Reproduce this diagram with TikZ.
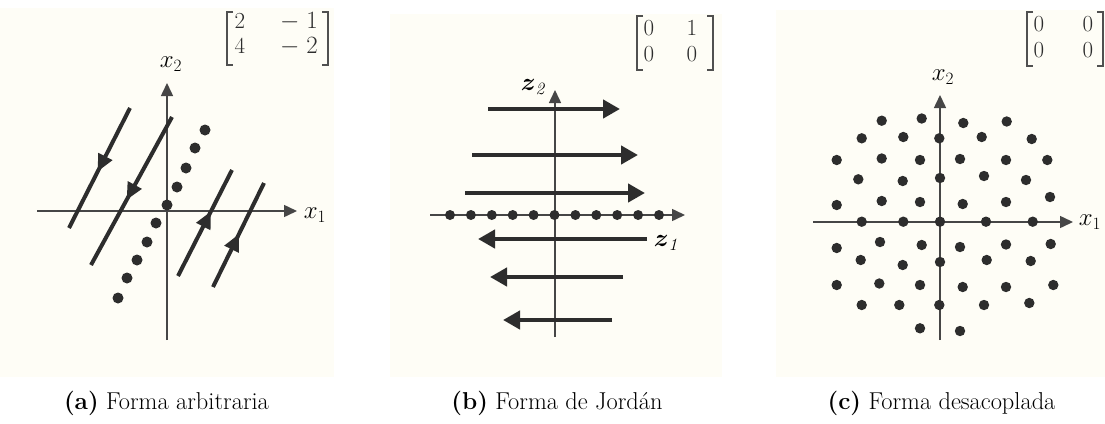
\documentclass[tikz,border=0pt]{standalone}
\usepackage{amsmath}
\usetikzlibrary{arrows.meta,decorations.markings}
\definecolor{paper}{RGB}{254,253,246}
\definecolor{ink}{RGB}{45,45,45}
\definecolor{axisink}{RGB}{70,70,70}
\definecolor{brkink}{RGB}{80,80,80}
\tikzset{
  axisline/.style={draw=axisink,line width=1.5pt,-{Triangle[length=13pt,width=12pt]}},
  traj/.style={draw=ink,line width=4pt},
  flow/.style={draw=ink,line width=4.4pt,-{Triangle[length=17pt,width=18pt]}},
  midarrow/.style={decoration={markings,mark=at position #1 with {\arrow{Triangle[length=17pt,width=15pt]}}},postaction=decorate},
  dotfill/.style={fill=ink,draw=none},
  lbl/.style={font=\fontsize{27}{30}\selectfont,inner sep=0pt},
  zlbl/.style={font=\fontsize{23}{26}\selectfont,inner sep=0pt},
  captxt/.style={font=\fontsize{24.4}{28}\selectfont,inner sep=0pt},
  entry/.style={font=\fontsize{23}{25}\selectfont,inner sep=0pt,anchor=base,text=ink},
  matbox/.style={draw=none,inner sep=0pt,outer sep=0pt},
  brk/.style={draw=brkink,line width=1.3pt}
}
\begin{document}
\begin{tikzpicture}[x=1pt,y=-1pt]
\useasboundingbox (0,0) rectangle (1105,423);
% faint scanned backgrounds
\fill[paper] (0,8) rectangle (334,377);
\fill[paper] (390,14) rectangle (722,377);
\fill[paper] (776,10) rectangle (1105,377);

% ===== Panel (a) =====
\coordinate (aL) at (37,211);
\coordinate (aR) at (297,211);
\coordinate (aB) at (167,340);
\coordinate (aT) at (167,83);
\draw[axisline] (aL) -- (aR);
\draw[axisline] (aB) -- (aT);
\node[lbl] (ax2) at (171,64) {$x_2$};
\node[lbl] (ax1) at (315,215) {$x_1$};
% matrix (a)
\node[matbox,minimum width=101pt,minimum height=53pt] (ma) at (277.5,38.5) {};
\draw[brk] ([xshift=6pt]ma.north west) -- (ma.north west) -- (ma.south west) -- ([xshift=6pt]ma.south west);
\draw[brk] ([xshift=-6pt]ma.north east) -- (ma.north east) -- (ma.south east) -- ([xshift=-6pt]ma.south east);
\node[entry] (ma11) at (240,28) {2};
\node[entry] (ma21) at (240,53) {4};
\node[entry] (ma12) at (299,28) {$-\hspace{7pt}1$};
\node[entry] (ma22) at (299,53) {$-\hspace{7pt}2$};
% trajectories
\coordinate (l1a) at (130,108); \coordinate (l1b) at (69,228);
\coordinate (l2a) at (172,117); \coordinate (l2b) at (91,265);
\coordinate (l3a) at (178,276); \coordinate (l3b) at (232,170);
\coordinate (l4a) at (213,287); \coordinate (l4b) at (264,183);
\draw[traj,midarrow=0.53] (l1a) -- (l1b);
\draw[traj,midarrow=0.56] (l2a) -- (l2b);
\draw[traj,midarrow=0.61] (l3a) -- (l3b);
\draw[traj,midarrow=0.51] (l4a) -- (l4b);
% equilibrium line
\foreach \p in {(205,130),(195,148),(186,168),(177,187),(167,205),(156,223),(147,242),(137,260),(127,278),(118,298)}
  \fill[dotfill] \p circle (5.5pt);

% ===== Panel (b) =====
\coordinate (bL) at (430,215);
\coordinate (bR) at (685,215);
\coordinate (bB) at (555,337);
\coordinate (bT) at (555,90);
\draw[axisline] (bL) -- (bR);
\draw[axisline] (bB) -- (bT);
\node[zlbl] (bz2) at (534,87) {$\boldsymbol{z}_{\mathit{2}}$};
\node[zlbl] (bz1) at (667,243) {$\boldsymbol{z}_{\mathit{1}}$};
% matrix (b)
\node[matbox,minimum width=76pt,minimum height=54pt] (mb) at (675,43) {};
\draw[brk] ([xshift=6pt]mb.north west) -- (mb.north west) -- (mb.south west) -- ([xshift=6pt]mb.south west);
\draw[brk] ([xshift=-6pt]mb.north east) -- (mb.north east) -- (mb.south east) -- ([xshift=-6pt]mb.south east);
\node[entry] (mb11) at (649,35) {0};
\node[entry] (mb21) at (649,61) {0};
\node[entry] (mb12) at (692,35) {1};
\node[entry] (mb22) at (692,61) {0};
\coordinate (r1a) at (488,109); \coordinate (r1b) at (620,109);
\coordinate (r2a) at (472,155); \coordinate (r2b) at (638,155);
\coordinate (r3a) at (465,193); \coordinate (r3b) at (645,193);
\coordinate (s1a) at (647,239); \coordinate (s1b) at (478,239);
\coordinate (s2a) at (623,277); \coordinate (s2b) at (490,277);
\coordinate (s3a) at (612,320); \coordinate (s3b) at (503,320);
\draw[flow] (r1a) -- (r1b);
\draw[flow] (r2a) -- (r2b);
\draw[flow] (r3a) -- (r3b);
\draw[flow] (s1a) -- (s1b);
\draw[flow] (s2a) -- (s2b);
\draw[flow] (s3a) -- (s3b);
\foreach \k in {0,...,10}
  \fill[dotfill] ({450+20.9*\k},215) circle (5pt);

% ===== Panel (c) =====
\coordinate (cL) at (813,222);
\coordinate (cR) at (1073,222);
\coordinate (cB) at (940,340);
\coordinate (cT) at (940,95);
\draw[axisline] (cL) -- (cR);
\draw[axisline] (cB) -- (cT);
\node[lbl] (cx2) at (943,77) {$x_2$};
\node[lbl] (cx1) at (1090,222) {$x_1$};
% matrix (c)
\node[matbox,minimum width=76pt,minimum height=54pt] (mc) at (1065,39) {};
\draw[brk] ([xshift=6pt]mc.north west) -- (mc.north west) -- (mc.south west) -- ([xshift=6pt]mc.south west);
\draw[brk] ([xshift=-6pt]mc.north east) -- (mc.north east) -- (mc.south east) -- ([xshift=-6pt]mc.south east);
\node[entry] (mc11) at (1039,31) {0};
\node[entry] (mc21) at (1039,57) {0};
\node[entry] (mc12) at (1088,31) {0};
\node[entry] (mc22) at (1088,57) {0};
\foreach \p in {
 (881.7,120.7),(921.7,118.5),(963.3,123),(1006.7,121.5),
 (861.7,138.3),(903.3,137),(939.3,138.3),(981.7,137),(1031.7,139),
 (836.7,160),(881.7,158.5),(920,160),(960,159),(1006,160),(1047.3,160),
 (858.3,179.3),(902.7,181),(940,178),(984,176),(1026,180),
 (836.7,205),(881.7,201),(920,202),(962.7,204),(1006,202),(1050,197),
 (861.7,221.7),(903.3,221.7),(940,221.7),(986,221.7),(1032.7,221.7),
 (836.7,248),(880,242),(921.7,245),(960,247),(1006,244.5),(1050.7,244),
 (860.7,260),(902.7,265),(940,262),(986.7,260),(1030.7,261),
 (836.7,285),(879.3,283.5),(920,285),(962.7,287),(1006,287),(1053.3,285),
 (861.7,305),(899.3,305),(939.3,305),(984,305),(1029.3,303),
 (920,328.3),(960,331)}
  \fill[dotfill] \p circle (5.2pt);

% ===== Captions =====
\node[captxt] (capa) at (166.5,403) {\textbf{(a)} Forma arbitraria};
\node[captxt] (capb) at (557,403) {\textbf{(b)} Forma de Jordán};
\node[captxt] (capc) at (941.5,403) {\textbf{(c)} Forma desacoplada};
\end{tikzpicture}
\end{document}
